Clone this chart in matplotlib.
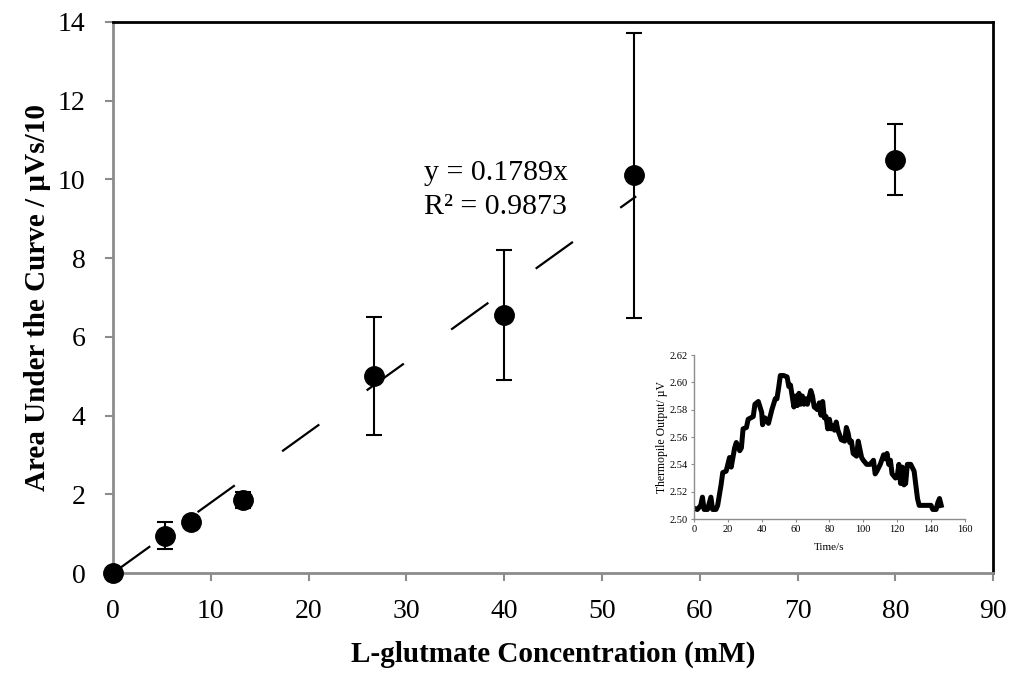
import matplotlib
matplotlib.use("Agg")
import matplotlib.pyplot as plt
import numpy as np

plt.rcParams['font.family'] = ['Liberation Serif', 'DejaVu Serif']
plt.rcParams['lines.scale_dashes'] = False

# Main data
conc = [0, 5.3, 8.0, 13.3, 26.7, 40.0, 53.3, 80.0]
area = [0, 0.95, 1.3, 1.85, 5.0, 6.55, 10.1, 10.5]
err = [0, 0.35, 0.12, 0.2, 1.5, 1.65, 3.62, 0.9]
slope = 0.1789
r2 = 0.9873
fit_x = [0, 53.5]

# Inset data
time_s = [0, 2, 4, 5, 6, 8, 10, 11, 13, 14, 16, 17, 19, 21, 22, 23, 24, 25, 27, 28,
          29, 31, 32, 35, 36, 38, 40, 40.5, 42, 44, 46, 48, 49, 50, 51, 53, 55, 56, 57, 58,
          59, 60, 61, 62, 63, 64, 65, 66, 67, 69, 70, 71, 73, 74, 75, 76, 77, 78, 79, 80,
          81, 82, 83, 84, 85, 87, 89, 90, 91, 92, 93, 94, 96, 97, 98, 99, 100, 102, 104, 106,
          107, 108, 110, 112, 113, 114, 115, 116, 117, 119, 120, 121, 122, 123, 124, 125, 126, 128, 130, 131,
          132, 133, 140, 141, 143, 144, 145, 146]
output_uv = [2.508, 2.507, 2.510, 2.516, 2.507, 2.507, 2.516, 2.507, 2.507, 2.510, 2.525, 2.534, 2.535, 2.545, 2.538, 2.545, 2.552, 2.556, 2.550, 2.552,
             2.566, 2.567, 2.573, 2.575, 2.584, 2.586, 2.578, 2.569, 2.574, 2.570, 2.580, 2.588, 2.588, 2.596, 2.605, 2.605, 2.604, 2.597, 2.598, 2.590,
             2.582, 2.590, 2.583, 2.592, 2.584, 2.590, 2.584, 2.588, 2.584, 2.594, 2.590, 2.582, 2.580, 2.585, 2.576, 2.586, 2.574, 2.575, 2.566, 2.573,
             2.566, 2.568, 2.565, 2.571, 2.565, 2.558, 2.557, 2.567, 2.563, 2.556, 2.557, 2.548, 2.546, 2.557, 2.551, 2.545, 2.543, 2.540, 2.540, 2.543,
             2.533, 2.535, 2.540, 2.547, 2.544, 2.548, 2.540, 2.543, 2.533, 2.530, 2.531, 2.540, 2.526, 2.538, 2.525, 2.526, 2.540, 2.540, 2.535, 2.525,
             2.515, 2.510, 2.510, 2.507, 2.507, 2.512, 2.515, 2.510]

fig = plt.figure(figsize=(10.24, 6.79), dpi=100)
ax = fig.add_axes([0.1104, 0.1561, 0.8594, 0.8115])

grey = '#8c8c8c'
fx = np.array(fit_x)
ln, = ax.plot(fx, slope * fx, color='black', lw=1.6, zorder=2)
ln.set_dashes([33, 42])
ax.errorbar(conc, area, yerr=err, fmt='o', color='black', ms=14, elinewidth=1.5,
            capsize=5.5, capthick=1.5, zorder=3, clip_on=False)

ax.set_xlim(0, 90)
ax.set_ylim(0, 14)
ax.set_xticks(range(0, 91, 10))
ax.set_yticks(range(0, 15, 2))
ax.tick_params(axis='both', direction='out', length=6, width=1.5, color=grey,
               labelsize=20)
ax.tick_params(axis='x', pad=13)
ax.tick_params(axis='y', pad=14)
for s in ['left', 'bottom']:
    ax.spines[s].set_color(grey)
    ax.spines[s].set_linewidth(2)
for s in ['top', 'right']:
    ax.spines[s].set_color('black')
    ax.spines[s].set_linewidth(2)

ax.set_xlabel('L-glutmate Concentration (mM)', fontsize=21, fontweight='bold', labelpad=12)
ax.set_ylabel('Area Under the Curve / µVs/10', fontsize=21, fontweight='bold', labelpad=5)

ax.text(31.8, 9.98, f'y = {slope}x', fontsize=21.5, ha='left', va='baseline')
ax.text(31.8, 9.13, f'R² = {r2}', fontsize=21.5, ha='left', va='baseline')

# Inset
ins = fig.add_axes([0.6777, 0.2356, 0.2646, 0.2415])
ins.plot(time_s, output_uv, color='black', lw=3.6, solid_joinstyle='round')
ins.set_xlim(0, 160)
ins.set_ylim(2.50, 2.62)
ins.set_xticks(range(0, 161, 20))
ins.set_yticks([2.50, 2.52, 2.54, 2.56, 2.58, 2.60, 2.62])
ins.set_yticklabels([f'{v:.2f}' for v in [2.50, 2.52, 2.54, 2.56, 2.58, 2.60, 2.62]])
ins.tick_params(axis='both', direction='out', length=2.5, width=0.8, color=grey,
                labelsize=7.5, pad=2)
for s in ['left', 'bottom']:
    ins.spines[s].set_color(grey)
    ins.spines[s].set_linewidth(1)
for s in ['top', 'right']:
    ins.spines[s].set_visible(False)
ins.set_xlabel('Time/s', fontsize=8, labelpad=6)
ins.set_ylabel('Thermopile Output/ µV', fontsize=8.5, labelpad=1)
ins.patch.set_alpha(0)

fig.savefig('out.png', dpi=100)
